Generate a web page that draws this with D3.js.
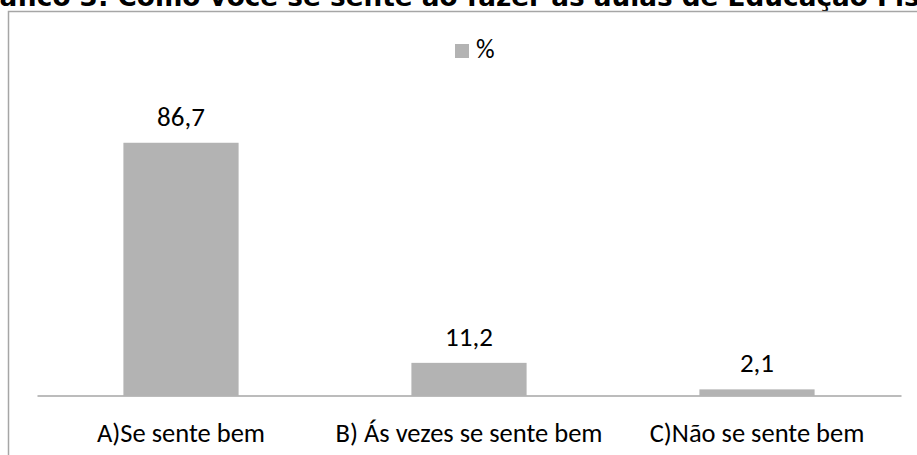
<!DOCTYPE html>
<html>
<head>
<meta charset="utf-8">
<script src="https://cdn.jsdelivr.net/npm/d3@7"></script>
<style>
  body { margin: 0; background: #fff; }
  svg { display: block; }
</style>
</head>
<body>
<svg id="chart"></svg>
<script>
// chart data
var categories = ["A)Se sente bem", "B) Ás vezes se sente bem", "C)Não se sente bem"];
var values = [86.7, 11.2, 2.1];
var valueLabels = ["86,7", "11,2", "2,1"];
var seriesName = "%";
var title = "Gráfico 3: Como você se sente ao fazer as aulas de Educação Física?";

var W = 917, H = 455;
var plot = { left: 37, right: 901, top: 104, bottom: 395.5 };
var labelFont = "Carlito, 'Liberation Sans Narrow', 'Open Sans', sans-serif";

var svg = d3.select("#chart").attr("width", W).attr("height", H);

// title, clipped at the top like in the source
svg.append("text")
  .attr("x", -35)
  .attr("y", 5.5)
  .attr("font-family", "'DejaVu Sans', sans-serif")
  .attr("font-weight", "bold")
  .attr("font-size", 26.3)
  .attr("fill", "#000")
  .text(title);

// chart frame
svg.append("path")
  .attr("d", "M8.5," + H + "V11.5H" + W)
  .attr("fill", "none")
  .attr("stroke", "#a6a6a6")
  .attr("stroke-width", 1.5);

var x = d3.scaleBand()
  .domain(categories)
  .range([plot.left, plot.right])
  .paddingInner(0.6)
  .paddingOuter(0.3);

var y = d3.scaleLinear()
  .domain([0, 100])
  .range([plot.bottom, plot.top]);

// bars
svg.selectAll("rect.bar")
  .data(values)
  .enter().append("rect")
  .attr("class", "bar")
  .attr("x", function(d, i) { return x(categories[i]); })
  .attr("y", function(d) { return y(d); })
  .attr("width", x.bandwidth())
  .attr("height", function(d) { return y(0) - y(d); })
  .attr("fill", "#b3b3b3");

// value labels
svg.selectAll("text.val")
  .data(values)
  .enter().append("text")
  .attr("class", "val")
  .attr("x", function(d, i) { return x(categories[i]) + x.bandwidth() / 2; })
  .attr("y", function(d) { return y(d) - 17; })
  .attr("text-anchor", "middle")
  .attr("font-family", labelFont)
  .attr("font-size", 27)
  .attr("fill", "#000")
  .text(function(d, i) { return valueLabels[i]; });

// x axis
var xAxis = svg.append("g")
  .attr("transform", "translate(0," + plot.bottom + ")")
  .call(d3.axisBottom(x).tickSize(0).tickPadding(27.5));
xAxis.select(".domain").attr("stroke", "#a6a6a6").attr("stroke-width", 1.5);
xAxis.selectAll("text")
  .attr("font-family", labelFont)
  .attr("font-size", 26.5)
  .attr("fill", "#000");

// legend
var legend = svg.append("g").attr("transform", "translate(455,44)");
legend.append("rect")
  .attr("width", 14).attr("height", 14)
  .attr("fill", "#b3b3b3");
legend.append("text")
  .attr("x", 21).attr("y", 14)
  .attr("font-family", labelFont)
  .attr("font-size", 26)
  .attr("fill", "#000")
  .text(seriesName);
</script>
</body>
</html>
